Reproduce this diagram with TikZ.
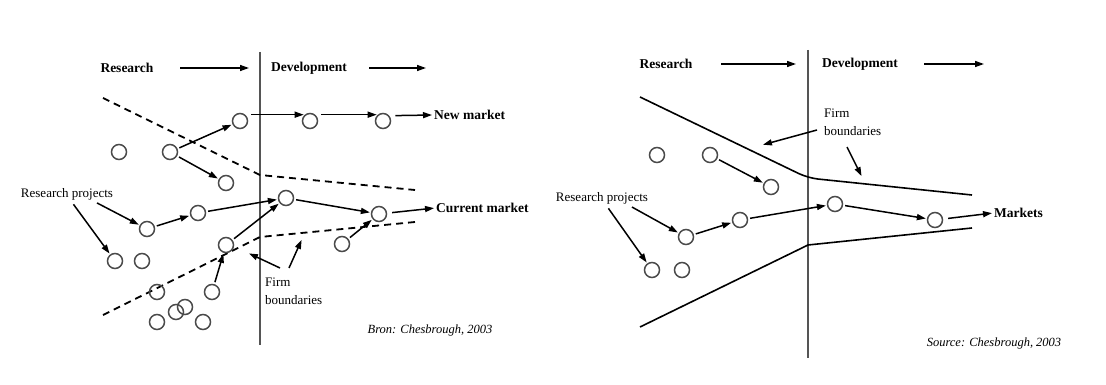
\documentclass[tikz,border=0pt]{standalone}
\usepackage{fontspec}
\setmainfont{Liberation Serif}
\usetikzlibrary{arrows.meta}
\definecolor{circ}{HTML}{4A4A4A}
\definecolor{axis}{HTML}{555555}
\tikzset{
  proj/.style={circle,draw=circ,line width=1.5pt,minimum size=15pt,inner sep=0pt},
  arr/.style={line width=1.5pt,-{Triangle[length=9pt,width=6pt]},shorten <=2pt,shorten >=1pt},
  head/.style={font=\fontsize{13.5}{15}\selectfont\bfseries,inner sep=1pt},
  lbl/.style={font=\fontsize{13}{18}\selectfont,inner sep=1pt,align=left},
  src/.style={font=\fontsize{12.5}{15}\selectfont\itshape,inner sep=1pt},
  divider/.style={draw=axis,line width=2.2pt},
  bound/.style={line width=1.6pt},
  dbound/.style={line width=1.8pt,dash pattern=on 7pt off 5pt},
}
\begin{document}
\begin{tikzpicture}[x=1pt,y=-1pt]
\useasboundingbox (0,0) rectangle (1106,385);
% ================= LEFT =================
\coordinate (vLt) at (260,52); \coordinate (vLb) at (260,345);
\draw[divider] (vLt) -- (vLb);
\node[head] (resL) at (127,68) {Research};
\node[head] (devL) at (309,68) {Development};
\coordinate (aR1s) at (178,68); \coordinate (aR1e) at (250,68);
\coordinate (aD1s) at (367,68); \coordinate (aD1e) at (427,68);
\draw[arr] (aR1s) -- (aR1e);
\draw[arr] (aD1s) -- (aD1e);
% dashed boundaries
\coordinate (uL1) at (103,98); \coordinate (uL2) at (260,175); \coordinate (uL3) at (415,190);
\coordinate (lL1) at (103,315); \coordinate (lL2) at (260,237); \coordinate (lL3) at (415,222);
\draw[dbound] (uL1) -- (uL2) -- (uL3);
\draw[dbound] (lL1) -- (lL2) -- (lL3);
% projects
\node[proj] (L1) at (240,121) {};
\node[proj] (L2) at (310,121) {};
\node[proj] (L3) at (383,121) {};
\node[proj] (L4) at (119,152) {};
\node[proj] (L5) at (170,152) {};
\node[proj] (L6) at (226,183) {};
\node[proj] (L7) at (286,198) {};
\node[proj] (L8) at (198,213) {};
\node[proj] (L9) at (379,214) {};
\node[proj] (L10) at (147,229) {};
\node[proj] (L11) at (226,245) {};
\node[proj] (L12) at (342,244) {};
\node[proj] (L13) at (115,261) {};
\node[proj] (L14) at (142,261) {};
\node[proj] (L15) at (157,292) {};
\node[proj] (L16) at (212,292) {};
\node[proj] (L17) at (185,307) {};
\node[proj] (L18) at (176,312) {};
\node[proj] (L19) at (157,322) {};
\node[proj] (L20) at (203,322) {};
% labels
\node[head,anchor=west] (newm) at (433,115) {New market};
\node[head,anchor=west] (curm) at (435,208) {Current market};
\node[lbl] (rpL) at (67,194) {Research projects};
\node[lbl,anchor=west] (firmL) at (264,291) {Firm\\boundaries};
\node[src] (srcL) at (430,330) {Bron: Chesbrough, 2003};
% arrows
\draw[arr,shorten <=6pt] (L1.50) -- (L2.130);
\draw[arr,shorten <=6pt] (L2.50) -- (L3.130);
\draw[arr,shorten <=6pt] (L3.40) -- (newm.west);
\draw[arr] (L5) -- (L1);
\draw[arr] (L5) -- (L6);
\draw[arr,shorten <=4pt] (rpL.-15) -- (L10);
\draw[arr,shorten <=4pt] (rpL.-60) -- (L13);
\draw[arr] (L10) -- (L8);
\draw[arr] (L8) -- (L7);
\draw[arr] (L11) -- (L7);
\draw[arr] (L16) -- (L11);
\draw[arr] (L7) -- (L9);
\draw[arr] (L12) -- (L9);
\draw[arr,shorten <=5pt] (L9) -- (curm.west);
\coordinate (fL1) at (289,268); \coordinate (fL1e) at (302,239);
\coordinate (fL2) at (280,268); \coordinate (fL2e) at (248,253);
\draw[arr,shorten <=0pt] (fL1) -- (fL1e);
\draw[arr,shorten <=0pt] (fL2) -- (fL2e);
% ================= RIGHT =================
\coordinate (vRt) at (808,50); \coordinate (vRb) at (808,358);
\draw[divider] (vRt) -- (vRb);
\node[head] (resR) at (666,64) {Research};
\node[head] (devR) at (860,64) {Development};
\coordinate (aR2s) at (719,64); \coordinate (aR2e) at (797,64);
\coordinate (aD2s) at (922,64); \coordinate (aD2e) at (985,64);
\draw[arr] (aR2s) -- (aR2e);
\draw[arr] (aD2s) -- (aD2e);
\coordinate (uR1) at (640,97); \coordinate (uR2) at (808,178); \coordinate (uR3) at (972,195);
\coordinate (lR1) at (640,327); \coordinate (lR2) at (808,245); \coordinate (lR3) at (972,228);
\draw[bound,rounded corners=10pt] (uR1) -- (uR2) -- (uR3);
\draw[bound] (lR1) -- (lR2) -- (lR3);
\node[proj] (R1) at (657,155) {};
\node[proj] (R2) at (710,155) {};
\node[proj] (R3) at (771,187) {};
\node[proj] (R4) at (740,220) {};
\node[proj] (R5) at (686,237) {};
\node[proj] (R6) at (652,270) {};
\node[proj] (R7) at (682,270) {};
\node[proj] (R8) at (835,204) {};
\node[proj] (R9) at (935,220) {};
\node[head,anchor=west] (mkts) at (993,213) {Markets};
\node[lbl] (rpR) at (602,198) {Research projects};
\node[lbl,anchor=west] (firmR) at (823,122) {Firm\\boundaries};
\node[src] (srcR) at (994,343) {Source: Chesbrough, 2003};
\draw[arr] (R2) -- (R3);
\draw[arr,shorten <=4pt] (rpR.-15) -- (R5);
\draw[arr,shorten <=4pt] (rpR.-60) -- (R6);
\draw[arr] (R5) -- (R4);
\draw[arr] (R4) -- (R8);
\draw[arr] (R8) -- (R9);
\draw[arr,shorten <=5pt] (R9) -- (mkts.west);
\coordinate (fR1s) at (817,130); \coordinate (fR1e) at (762,145);
\coordinate (fR2s) at (847,147); \coordinate (fR2e) at (862,177);
\draw[arr,shorten <=0pt] (fR1s) -- (fR1e);
\draw[arr,shorten <=0pt] (fR2s) -- (fR2e);
\end{tikzpicture}
\end{document}
